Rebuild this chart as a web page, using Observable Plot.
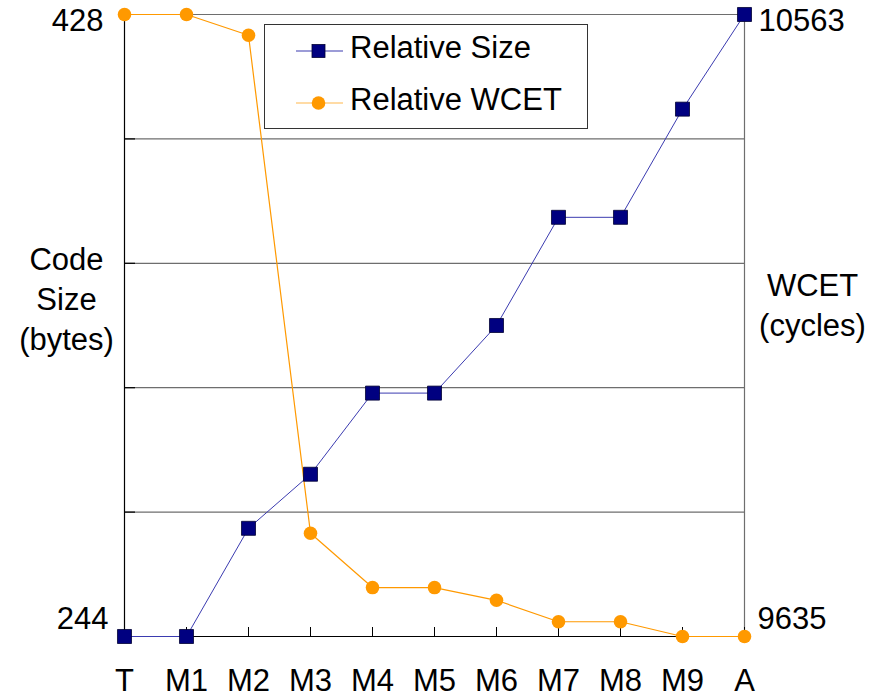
<!DOCTYPE html>
<html>
<head>
<meta charset="utf-8">
<script src="https://cdn.jsdelivr.net/npm/d3@7"></script>
<script src="https://cdn.jsdelivr.net/npm/@observablehq/plot@0.6"></script>
<style>
  body { margin: 0; background: #fff; }
  #wrap { position: relative; width: 881px; height: 695px; font-family: "Liberation Sans", Arial, sans-serif; }
  #legend { position: absolute; left: 264px; top: 24px; width: 322px; height: 103px; border: 1px solid #333; background: #fff; box-sizing: content-box; }
</style>
</head>
<body>
<div id="wrap"></div>
<script>
// ---- data ----
const categories = ["T", "M1", "M2", "M3", "M4", "M5", "M6", "M7", "M8", "M9", "A"];
const codeSize = [244, 244, 276, 292, 316, 316, 336, 368, 368, 400, 428];        // bytes
const wcet = [10563, 10563, 10532, 9789, 9708, 9708, 9689, 9657, 9657, 9635, 9635]; // cycles
const sizeTickLabels = [244, 428];
const wcetTickLabels = [9635, 10563];
const seriesNames = ["Relative Size", "Relative WCET"];

const sizeMin = d3.min(sizeTickLabels), sizeMax = d3.max(sizeTickLabels);
const wMin = d3.min(wcetTickLabels), wMax = d3.max(wcetTickLabels);
// map WCET onto the left (bytes) scale so both share the same vertical extent
const wToY = w => sizeMin + (w - wMin) / (wMax - wMin) * (sizeMax - sizeMin);
const gridValues = d3.range(1, 5).map(k => sizeMin + k * (sizeMax - sizeMin) / 5);

const sizeData = categories.map((c, i) => ({cat: c, v: codeSize[i]}));
const wcetData = categories.map((c, i) => ({cat: c, v: wToY(wcet[i]), raw: wcet[i]}));

const FONT = "Liberation Sans, Arial, sans-serif";
const FS = 31;
const navy = "#000080", navyLine = "#3b3bb0", orange = "#FF9900", grid = "#6e6e6e";

const chart = Plot.plot({
  width: 881,
  height: 695,
  marginLeft: 124,
  marginRight: 137,
  marginTop: 14,
  marginBottom: 59,
  style: {fontFamily: FONT, fontSize: FS + "px", color: "#000", background: "#fff", overflow: "visible"},
  x: {type: "point", domain: categories, padding: 0, label: null},
  y: {domain: [sizeMin, sizeMax], label: null, axis: null},
  marks: [
    // gridlines
    Plot.ruleY(gridValues, {stroke: grid, strokeWidth: 1.2}),
    Plot.ruleY(gridValues, {stroke: "#000", strokeWidth: 1.2, insetRight: 609}),
    // frame
    Plot.ruleY([sizeMax], {stroke: grid, strokeWidth: 1.2}),
    Plot.ruleX([categories[categories.length - 1]], {stroke: grid, strokeWidth: 1.2}),
    Plot.ruleX([categories[0]], {stroke: "#000", strokeWidth: 1.2}),
    Plot.ruleY([sizeMin], {stroke: "#000", strokeWidth: 1.2}),
    // x axis: inward ticks and labels
    Plot.axisX({tickSize: -9, tickFormat: null, label: null, stroke: "#000", strokeWidth: 1}),
    Plot.axisX({tickSize: 0, tickPadding: 32, fontSize: FS, fill: "#000", label: null}),
    // left axis end labels
    Plot.text([sizeMax], {y: d => d, text: d => String(d), frameAnchor: "left", textAnchor: "end", dx: -21, dy: 7, fontSize: FS, fill: "#000"}),
    Plot.text([sizeMin], {y: d => d, text: d => String(d), frameAnchor: "left", textAnchor: "end", dx: -16, dy: -17, fontSize: FS, fill: "#000"}),
    // right axis end labels (WCET)
    Plot.text([wMax], {y: d => wToY(d), text: d => String(d), frameAnchor: "right", textAnchor: "start", dx: 14, dy: 7, fontSize: FS, fill: "#000"}),
    Plot.text([wMin], {y: d => wToY(d), text: d => String(d), frameAnchor: "right", textAnchor: "start", dx: 13, dy: -17, fontSize: FS, fill: "#000"}),
    // axis titles
    Plot.text(["Code\nSize\n(bytes)"], {frameAnchor: "left", dx: -58, dy: -28, textAnchor: "middle", lineHeight: 1.29, fontSize: FS, fill: "#000"}),
    Plot.text(["WCET\n(cycles)"], {frameAnchor: "right", dx: 68, dy: -22, textAnchor: "middle", lineHeight: 1.29, fontSize: FS, fill: "#000"}),
    // series
    Plot.line(sizeData, {x: "cat", y: "v", stroke: navyLine, strokeWidth: 1}),
    Plot.line(wcetData, {x: "cat", y: "v", stroke: orange, strokeWidth: 1.2}),
    Plot.dot(sizeData, {x: "cat", y: "v", symbol: "square", r: 7.9, fill: navy, stroke: "#000033", strokeWidth: 0.8}),
    Plot.dot(wcetData, {x: "cat", y: "v", symbol: "circle", r: 6.8, fill: orange, stroke: "none"})
  ]
});

const wrap = document.getElementById("wrap");
wrap.appendChild(chart);

// legend
const legend = document.createElement("div");
legend.id = "legend";
const lsvg = d3.create("svg").attr("width", 322).attr("height", 103).style("display", "block");
const rows = [
  {name: seriesNames[0], y: 26, ty: 22, line: navyLine, kind: "square"},
  {name: seriesNames[1], y: 78, ty: 74, line: "#FFB84D", kind: "circle"}
];
rows.forEach(r => {
  lsvg.append("line").attr("x1", 31).attr("x2", 78).attr("y1", r.y).attr("y2", r.y).attr("stroke", r.line).attr("stroke-width", 1.2);
  if (r.kind === "square") {
    lsvg.append("rect").attr("x", 47).attr("y", r.y - 6.5).attr("width", 13).attr("height", 13).attr("fill", navy).attr("stroke", "#000033").attr("stroke-width", 0.8);
  } else {
    lsvg.append("circle").attr("cx", 53.5).attr("cy", r.y).attr("r", 6.8).attr("fill", orange);
  }
  lsvg.append("text").attr("x", 85).attr("y", r.ty).attr("dy", "0.35em").attr("font-size", FS).attr("font-family", FONT).attr("fill", "#000").text(r.name);
});
legend.appendChild(lsvg.node());
wrap.appendChild(legend);
</script>
</body>
</html>
